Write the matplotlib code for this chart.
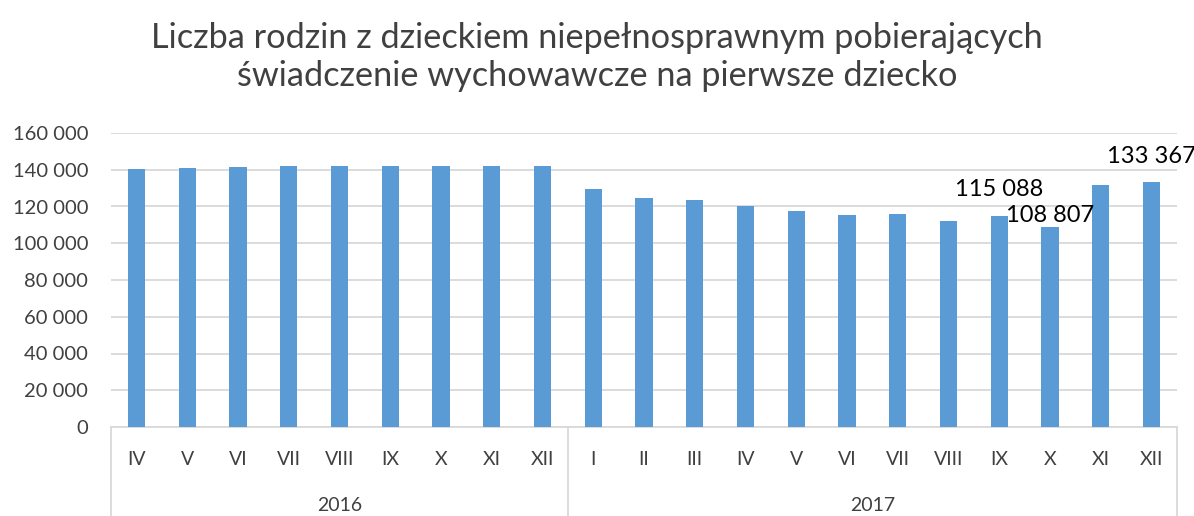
import matplotlib
matplotlib.use("Agg")
import matplotlib.pyplot as plt
from matplotlib.transforms import blended_transform_factory

months = ["IV", "V", "VI", "VII", "VIII", "IX", "X", "XI", "XII",
          "I", "II", "III", "IV", "V", "VI", "VII", "VIII", "IX", "X", "XI", "XII"]
years = ["2016", "2017"]
year_counts = [9, 12]
values = [140300, 140900, 141400, 142000, 142000, 142300, 142300, 142300, 142100,
          129400, 124700, 123400, 120500, 117300, 115300, 115800, 112000,
          115088, 108807, 131600, 133367]
labelled = {17: "115 088", 18: "108 807", 20: "133 367"}
yticks = [0, 20000, 40000, 60000, 80000, 100000, 120000, 140000, 160000]

plt.rcParams['font.family'] = ['Lato', 'DejaVu Sans']

fig = plt.figure(figsize=(11.94, 5.16), dpi=100)
ax = fig.add_axes([111/1194, (516-427)/516, (1177-111)/1194, (427-133)/516])

x = list(range(len(values)))
ax.bar(x, values, width=0.34, color="#5B9BD5", zorder=3)
ax.set_xlim(-0.5, len(values) - 0.5)
ax.set_ylim(0, 160000)
ax.set_yticks(yticks)
ax.set_yticklabels([f"{v:,}".replace(",", " ") for v in yticks], fontsize=14.5, color="#404040")
ax.tick_params(axis='y', length=0, pad=16.5)
ax.tick_params(axis='x', length=0, labelbottom=False)
ax.grid(axis='y', color="#D9D9D9", linewidth=1.3, zorder=0)
for s in ["top", "right", "left"]:
    ax.spines[s].set_visible(False)
ax.spines["bottom"].set_color("#D9D9D9")
ax.spines["bottom"].set_linewidth(1.3)

tr = blended_transform_factory(ax.transData, ax.transAxes)
for i, m in enumerate(months):
    ax.text(i, -0.112, m, transform=tr, ha="center", va="center", fontsize=14, color="#404040")

bottom_ax = -(516 - 427) / (427 - 133) - 0.02
start = 0
seps = [-0.5]
for yname, cnt in zip(years, year_counts):
    center = start + (cnt - 1) / 2
    ax.text(center, -0.268, yname, transform=tr, ha="center", va="center", fontsize=14, color="#404040")
    start += cnt
    seps.append(start - 0.5)
for s in seps:
    ax.plot([s, s], [0, bottom_ax], transform=tr, color="#D9D9D9", linewidth=1.3, clip_on=False)

offsets = {17: 11, 18: 1, 20: 11}
for i, txt in labelled.items():
    ax.annotate(txt, (i, values[i]), xytext=(0, offsets[i]), textcoords="offset points",
                ha="center", va="bottom", fontsize=17, color="#000000")

fig.text(0.5, 0.89, "Liczba rodzin z dzieckiem niepełnosprawnym pobierających\nświadczenie wychowawcze na pierwsze dziecko",
         ha="center", va="center", fontsize=24.7, color="#404040", linespacing=1.22)

fig.savefig("out.png", dpi=100)
